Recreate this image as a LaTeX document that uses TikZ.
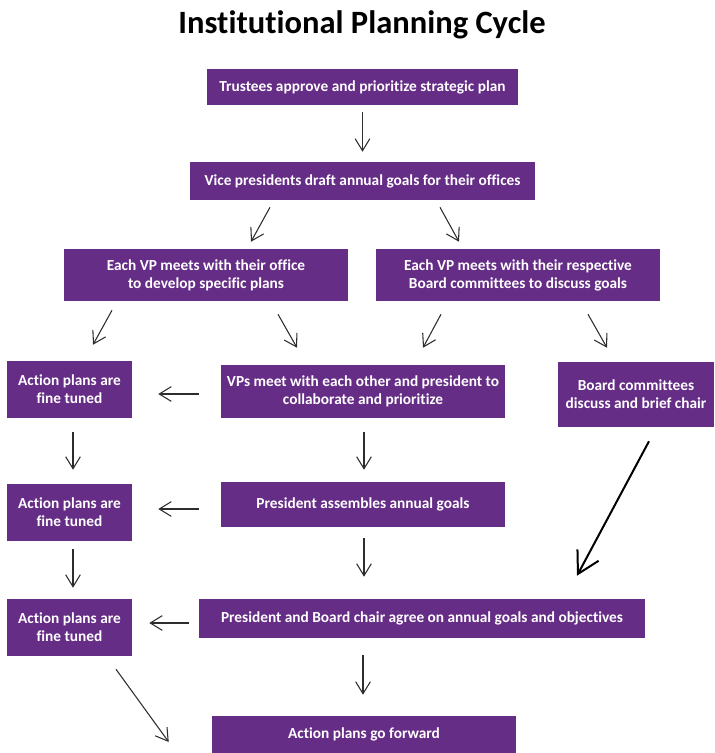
\documentclass[tikz,border=0pt]{standalone}
\usepackage{fontspec}
\setmainfont{Carlito}[Ligatures=NoCommon]
\usetikzlibrary{arrows.meta,calc}
\definecolor{planpurple}{RGB}{102,45,135}
\definecolor{arrowgray}{RGB}{45,45,45}

\begin{document}
\begin{tikzpicture}[x=0.75pt, y=-0.75pt,
    box/.style 2 args={fill=planpurple, text=white, align=center, inner sep=0pt,
        font=\bfseries\fontsize{11.5}{13.5}\selectfont,
        minimum width=#1*0.75pt, minimum height=#2*0.75pt},
    flow/.style={draw=arrowgray, line width=0.8pt, -{Straight Barb[length=9pt,width=11pt]}},
    bigflow/.style={draw=black, line width=1.5pt, -{Straight Barb[length=16pt,width=18pt]}}]
                \useasboundingbox (0,0) rectangle (714,753);

                \node[anchor=base, font=\bfseries\fontsize{24.4}{28}\selectfont] (title) at (362,33) {Institutional Planning Cycle};

                \node[box={311}{36}] (trustees) at (362.5,87) {Trustees approve and prioritize strategic plan};
                \node[box={345}{38}] (vpdraft) at (362.5,181) {Vice presidents draft annual goals for their offices};
                \node[box={284}{52}] (office) at (206,275) {Each VP meets with their office\\to develop specific plans};
                \node[box={284}{52}] (board) at (518,275) {Each VP meets with their respective\\Board committees to discuss goals};

                \node[box={125}{57}] (fineA) at (69.5,389.5) {Action plans are\\fine tuned};
                \node[box={284}{53}] (meet) at (363,391.5) {VPs meet with each other and president to\\collaborate and prioritize};
                \node[box={156}{65}] (brief) at (636,394.5) {Board committees\\discuss and brief chair};

                \node[box={125}{57}] (fineB) at (69.5,512.5) {Action plans are\\fine tuned};
                \node[box={284}{45}] (assemble) at (363,504.5) {President assembles annual goals};

                \node[box={125}{57}] (fineC) at (69.5,627.5) {Action plans are\\fine tuned};
                \node[box={446}{39}] (agree) at (422,618.5) {President and Board chair agree on annual goals and objectives};

                \node[box={304}{37}] (forward) at (364,734.5) {Action plans go forward};

                % top of the cycle
                \draw[flow] ($(trustees.south)+(0,7)$) -- ($(vpdraft.north)+(0,-10)$);
                \draw[flow] ($(vpdraft.south)+(-92.5,7)$) -- ($(office.north)+(45,-7)$);
                \draw[flow] ($(vpdraft.south)+(77.5,7)$) -- ($(board.north)+(-59,-7)$);

                \draw[flow] ($(office.south)+(-94,9)$) -- ($(fineA.north)+(23.5,-16)$);
                \draw[flow] ($(office.south)+(72,13)$) -- ($(meet.north)+(-66,-17)$);
                \draw[flow] ($(board.south)+(-77,13)$) -- ($(meet.north)+(60,-17)$);
                \draw[flow] ($(board.south)+(70,13)$) -- ($(brief.north)+(-29,-14)$);

                % action plans column
                \draw[flow] ($(meet.west)+(-22,2.5)$) -- ($(fineA.east)+(26,4.5)$);
                \draw[flow] ($(fineA.south)+(3.5,14)$) -- ($(fineB.north)+(3.5,-14)$);
                \draw[flow] ($(assemble.west)+(-22,4.5)$) -- ($(fineB.east)+(26,-3.5)$);
                \draw[flow] ($(fineB.south)+(3.5,8)$) -- ($(fineC.north)+(3.5,-11)$);
                \draw[flow] ($(agree.west)+(-10,4.5)$) -- ($(fineC.east)+(17,-4.5)$);

                % middle column
                \draw[flow] ($(meet.south)+(1,14)$) -- ($(assemble.north)+(1,-12)$);
                \draw[flow] ($(assemble.south)+(1,11)$) -- ($(agree.north)+(-58,-22)$);
                \draw[bigflow] ($(brief.south)+(13,14)$) -- ($(agree.north)+(155,-23)$);

                \draw[flow] ($(agree.south)+(-59,17)$) -- ($(forward.north)+(-1,-21)$);
                \draw[flow] ($(fineC.south)+(46.5,13)$) -- ($(forward.west)+(-43,7.5)$);
\end{tikzpicture}
\end{document}
